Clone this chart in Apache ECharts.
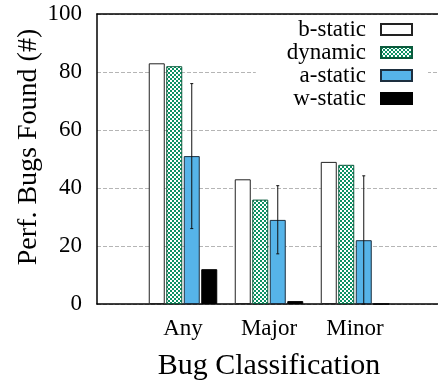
<!DOCTYPE html>
<html>
<head>
<meta charset="utf-8">
<script src="https://cdn.jsdelivr.net/npm/echarts@6/dist/echarts.min.js"></script>
<style>html,body{margin:0;padding:0;background:#fff}#c{width:438px;height:381px}</style>
</head>
<body>
<div id="c"></div>
<script>
const categories = ['Any', 'Major', 'Minor'];
const seriesNames = ['b-static', 'dynamic', 'a-static', 'w-static'];
const bStatic = [83, 43, 49];
const dynamicVals = [82, 36, 48];
const aStatic = [51, 29, 22];
const wStatic = [12, 1, 0];
const aStaticErrLow = [26, 17.3, 0];
const aStaticErrHigh = [76, 40.8, 44.2];
const yTicks = [0, 20, 40, 60, 80, 100];

const FONT = "'Liberation Serif', 'Times New Roman', serif";
const BAR_W = 16, BAR_GAP_PX = 1.5;

// checker pattern
const pc = document.createElement('canvas');
pc.width = 4; pc.height = 4;
const pctx = pc.getContext('2d');
pctx.fillStyle = '#ffffff'; pctx.fillRect(0, 0, 4, 4);
pctx.fillStyle = '#0b9163';
pctx.fillRect(0, 0, 2, 2); pctx.fillRect(2, 2, 2, 2);
const checker = { image: pc, repeat: 'repeat' };

const axisCats = [''].concat(categories, ['']);
const pad = arr => [null].concat(arr, [null]);

const styles = [
  { color: '#ffffff', borderColor: '#222', borderWidth: 1 },
  { color: checker, borderColor: '#0b5a3c', borderWidth: 1 },
  { color: '#56b4e9', borderColor: '#1d2f3f', borderWidth: 1 },
  { color: '#000000', borderColor: '#000', borderWidth: 1 }
];
const values = [bStatic, dynamicVals, aStatic, wStatic];

const series = seriesNames.map((n, i) => ({
  name: n, type: 'bar', data: pad(values[i]),
  barWidth: BAR_W, barGap: (BAR_GAP_PX / BAR_W * 100) + '%',
  itemStyle: styles[i], emphasis: { disabled: true }, animation: false
}));

const errData = categories.map((c, i) => [i + 1, aStaticErrLow[i], aStaticErrHigh[i]]);
const aOffset = (BAR_W + BAR_GAP_PX) / 2; // third of four bars
series.push({
  type: 'custom', data: errData, z: 5, animation: false, silent: true,
  renderItem: function (params, api) {
    const lo = api.coord([api.value(0), api.value(1)]);
    const hi = api.coord([api.value(0), api.value(2)]);
    const x = lo[0] + aOffset;
    const st = { stroke: '#111', lineWidth: 1 };
    return { type: 'group', children: [
      { type: 'line', shape: { x1: x, y1: lo[1], x2: x, y2: hi[1] }, style: st },
      { type: 'line', shape: { x1: x - 1.5, y1: lo[1], x2: x + 1.5, y2: lo[1] }, style: st },
      { type: 'line', shape: { x1: x - 1.5, y1: hi[1], x2: x + 1.5, y2: hi[1] }, style: st }
    ]};
  }
});

const chart = echarts.init(document.getElementById('c'), null, { renderer: 'canvas' });
chart.setOption({
  animation: false,
  backgroundColor: '#fff',
  grid: { left: 97, top: 14, width: 344, bottom: 77, containLabel: false, outerBoundsMode: 'none' },
  legend: {
    data: seriesNames.map(n => ({ name: n, icon: 'rect' })), orient: 'vertical', align: 'right',
    right: 10, top: 16, itemWidth: 31, itemHeight: 11, itemGap: 0,
    backgroundColor: '#fff', padding: [2, 15, 2, 31],
    textStyle: { fontFamily: FONT, fontSize: 23, color: '#000', padding: [0, 10, 0, 0] },
    selectedMode: false
  },
  xAxis: [{
    type: 'category', data: axisCats, boundaryGap: false,
    axisLine: { lineStyle: { color: '#000', width: 1.5 } },
    axisTick: { show: false },
    axisLabel: { fontFamily: FONT, fontSize: 23, color: '#000', margin: 13, interval: 0 },
    name: 'Bug Classification', nameLocation: 'middle', nameGap: 47,
    nameTextStyle: { fontFamily: FONT, fontSize: 30, color: '#000' },
    splitLine: { show: false }
  }, {
    type: 'category', data: axisCats, boundaryGap: false, position: 'top',
    axisLine: { lineStyle: { color: '#000', width: 1.5 } },
    axisTick: { show: false }, axisLabel: { show: false }, splitLine: { show: false }
  }],
  yAxis: {
    type: 'value', min: yTicks[0], max: yTicks[yTicks.length - 1], interval: 20,
    axisLine: { show: true, lineStyle: { color: '#000', width: 1.5 } },
    axisTick: { show: false },
    axisLabel: { fontFamily: FONT, fontSize: 23, color: '#000', margin: 15 },
    splitLine: { show: true, lineStyle: { color: '#b5b5b5', type: [4, 2], width: 1 } }
  },
  graphic: [{
    type: 'text', x: 29, y: 147, rotation: Math.PI / 2, silent: true,
    style: { text: 'Perf. Bugs Found (#)', font: '28px ' + FONT, fill: '#000', align: 'center', verticalAlign: 'middle' }
  }],
  series: series
});
</script>
</body>
</html>
